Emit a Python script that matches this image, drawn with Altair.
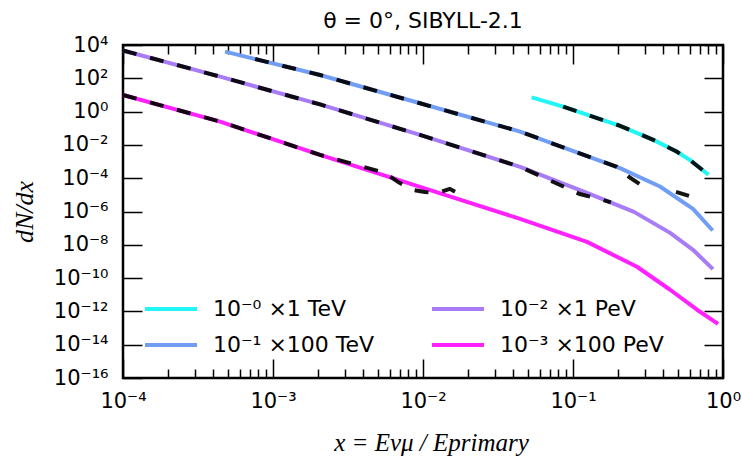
import altair as alt
import pandas as pd

# ---------------- data ----------------
# legend order (filled column by column, as in the reference)
names = ["10⁻⁰ ×1 TeV", "10⁻¹ ×100 TeV", "10⁻² ×1 PeV", "10⁻³ ×100 PeV"]
colors = ["#22f5f5", "#719df5", "#a87cf6", "#ff22ff"]

# solid model curves
tev1_x = [0.053, 0.086, 0.206, 0.343, 0.49, 0.60, 0.80]
tev1_y = [7.2, 2.0, 0.14, 0.020, 4.0e-3, 1.26e-3, 1.6e-4]

tev100_x = [4.79e-4, 2.06e-3, 9.55e-3, 0.0444, 0.0955, 0.2056, 0.380, 0.631, 0.853]
tev100_y = [3980, 158, 3.16, 0.063, 5.0e-3, 4.0e-4, 3.16e-5, 1.45e-6, 7.2e-8]

pev1_x = [1e-4, 4.44e-4, 2.06e-3, 9.55e-3, 0.0444, 0.124, 0.255, 0.444, 0.631, 0.857]
pev1_y = [4680, 126, 2.69, 0.0398, 4.8e-4, 1.32e-5, 9.5e-7, 5.2e-8, 5.0e-9, 3.47e-10]

pev100_x = [1e-4, 4.44e-4, 2.06e-3, 9.55e-3, 0.0444, 0.124, 0.267, 0.444, 0.671, 0.927]
pev100_y = [10, 0.251, 2.5e-3, 3.0e-5, 3.6e-7, 1.5e-8, 4.8e-10, 2.0e-11, 1.26e-12, 1.8e-13]

# black dashed (simulation) curves, split into segments
mc_tev1_x = [0.086, 0.206, 0.343, 0.49, 0.60, 0.80]
mc_tev1_y = [2.0, 0.14, 0.020, 4.0e-3, 1.26e-3, 1.6e-4]

mc_tev100_a_x = [7.6e-4, 2.06e-3, 9.55e-3, 0.0444, 0.0955, 0.196, 0.236, 0.280, 0.307]
mc_tev100_a_y = [1445, 158, 3.16, 0.063, 5.0e-3, 4.8e-4, 1.2e-4, 4.3e-5, 1.86e-5]
mc_tev100_b_x = [0.486, 0.593]
mc_tev100_b_y = [1.5e-5, 8.7e-6]

mc_pev1_x = [1e-4, 4.44e-4, 2.06e-3, 9.55e-3, 0.0444, 0.111, 0.158, 0.179]
mc_pev1_y = [4680, 126, 2.69, 0.0398, 4.8e-4, 1.12e-5, 5.0e-6, 3.5e-6]

mc_pev100_x = [1e-4, 4.44e-4, 2.06e-3, 5.58e-3, 6.81e-3, 8.45e-3, 0.0103, 0.0126, 0.0151, 0.0194]
mc_pev100_y = [10, 0.251, 2.5e-3, 2.1e-4, 6.0e-5, 2.0e-5, 1.5e-5, 1.32e-5, 2.3e-5, 6.6e-6]

# axis extents and ticks
x_range = [1e-4, 1.0]
y_range = [1e-16, 1e4]
x_major = [1e-4, 1e-3, 1e-2, 1e-1, 1.0]
x_minor = [m * 10.0 ** k for k in range(-4, 0) for m in range(2, 10)]
y_major = [10.0 ** k for k in range(4, -17, -2)]

# ---------------- tables ----------------
model_rows = []
for name, xs_, ys_ in [(names[0], tev1_x, tev1_y), (names[1], tev100_x, tev100_y),
                       (names[2], pev1_x, pev1_y), (names[3], pev100_x, pev100_y)]:
    for xv, yv in zip(xs_, ys_):
        model_rows.append({"x": xv, "y": yv, "series": name})
model = pd.DataFrame(model_rows)

mc_rows = []
for seg, xs_, ys_ in [("a", mc_tev1_x, mc_tev1_y), ("b", mc_tev100_a_x, mc_tev100_a_y),
                      ("c", mc_tev100_b_x, mc_tev100_b_y), ("d", mc_pev1_x, mc_pev1_y),
                      ("e", mc_pev100_x, mc_pev100_y)]:
    for xv, yv in zip(xs_, ys_):
        mc_rows.append({"x": xv, "y": yv, "seg": seg})
mc = pd.DataFrame(mc_rows)

frame_df = pd.DataFrame([{"x": x_range[0], "x2": x_range[1], "y": y_range[0], "y2": y_range[1]}])

E = "round(log(datum.value)/LN10)"
S = "'⁰¹²³⁴⁵⁶⁷⁸⁹'"
label_expr = (f"'10' + ({E} < 0 ? '⁻' : '') + "
              f"(abs({E}) >= 10 ? substring({S}, floor(abs({E})/10), floor(abs({E})/10)+1) : '') + "
              f"substring({S}, abs({E})%10, abs({E})%10+1)")

xs = alt.Scale(type="log", domain=x_range, nice=False)
ys = alt.Scale(type="log", domain=y_range, nice=False)

def tick_axis(orient, values, size):
    return alt.Axis(orient=orient, values=values, labels=False, domain=False, grid=False,
                    ticks=True, tickSize=size, tickWidth=1.5, tickColor="black",
                    offset=-size, title=None)

x_label_axis = alt.Axis(orient="bottom", values=x_major, labelExpr=label_expr, ticks=False,
                        domain=False, grid=False,
                        labelFont="DejaVu Sans", labelFontSize=21,
                        labelPadding=12, labelColor="black", labelFlush=False, labelOverlap=False,
                        title="x = Eνμ / Eprimary", titleFont="Liberation Serif",
                        titleFontStyle="italic", titleFontSize=25, titleFontWeight="normal",
                        titleColor="black", titleX=308, titleY=64, titleAlign="center",
                        titleBaseline="middle")
y_label_axis = alt.Axis(orient="left", values=y_major, labelExpr=label_expr, ticks=False,
                        domain=False, grid=False,
                        labelFont="DejaVu Sans", labelFontSize=21,
                        labelPadding=15, labelColor="black", labelFlush=False, labelOverlap=False,
                        labelBaseline="middle",
                        title="dN/dx", titleFont="Liberation Serif", titleFontStyle="italic",
                        titleFontSize=26, titleFontWeight="normal", titleColor="black",
                        titleX=-99, titleY=166.5, titleAngle=270, titleAlign="center",
                        titleBaseline="middle")

legend = alt.Legend(orient="none", legendX=20, legendY=252, columns=2, title=None,
                    symbolType="stroke", symbolSize=2704, symbolStrokeWidth=4,
                    clipHeight=24,
                    labelFont="DejaVu Sans", labelFontSize=22, labelColor="black",
                    labelOffset=14, columnPadding=55, rowPadding=12, padding=0,
                    labelLimit=400)

frame = alt.Chart(frame_df).mark_rect(filled=False, stroke="black", strokeWidth=2.5).encode(
    x=alt.X("x:Q", scale=xs, axis=x_label_axis),
    x2="x2:Q",
    y=alt.Y("y:Q", scale=ys, axis=y_label_axis),
    y2="y2:Q",
)

lines = alt.Chart(model).mark_line(strokeWidth=4, strokeJoin="round").encode(
    x=alt.X("x:Q", scale=xs, axis=tick_axis("bottom", x_major, 19)),
    y=alt.Y("y:Q", scale=ys, axis=tick_axis("left", y_major, 19)),
    color=alt.Color("series:N", scale=alt.Scale(domain=names, range=colors), legend=legend),
)

dashed = alt.Chart(mc).mark_line(strokeWidth=4, strokeDash=[14, 14], strokeCap="butt",
                                 color="black", opacity=0.92).encode(
    x=alt.X("x:Q", scale=xs, axis=tick_axis("top", x_major, 19)),
    y=alt.Y("y:Q", scale=ys, axis=tick_axis("right", y_major, 19)),
    detail="seg:N",
)

ghost2 = alt.Chart(mc).mark_line(opacity=0).encode(
    x=alt.X("x:Q", scale=xs, axis=tick_axis("bottom", x_minor, 9)),
    y=alt.Y("y:Q", scale=ys, axis=None),
    detail="seg:N",
)
ghost3 = alt.Chart(mc).mark_line(opacity=0).encode(
    x=alt.X("x:Q", scale=xs, axis=tick_axis("top", x_minor, 9)),
    y=alt.Y("y:Q", scale=ys, axis=None),
    detail="seg:N",
)

chart = alt.layer(frame, lines, dashed, ghost2, ghost3).resolve_axis(
    x="independent", y="independent"
).properties(
    width=600, height=333,
    autosize=alt.AutoSizeParams(type="none"),
    padding={"left": 123, "top": 45, "right": 19, "bottom": 81},
    title=alt.TitleParams(text="θ = 0°, SIBYLL-2.1", font="DejaVu Sans", fontSize=22,
                          fontWeight="normal", color="black", anchor="middle", offset=1),
).configure(
    background="white",
    view=alt.ViewConfig(stroke="black", strokeWidth=2),
)

chart.save("out.html", embed_options={"renderer": "svg", "actions": False})
